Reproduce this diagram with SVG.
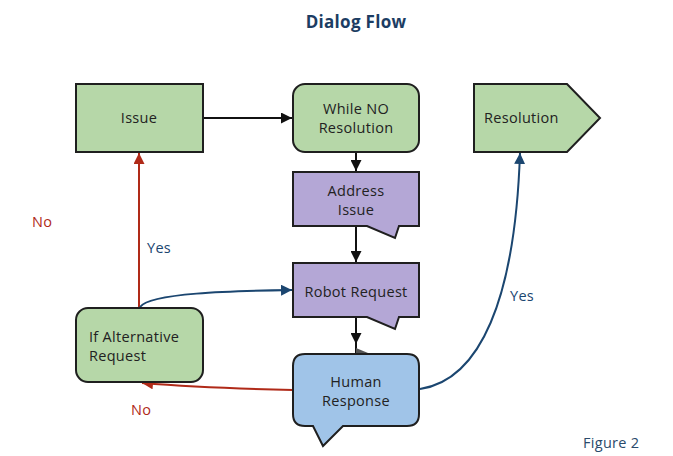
<svg xmlns="http://www.w3.org/2000/svg" width="673" height="456" viewBox="0 0 673 456">
<style>
text{font-family:"Open Sans","Noto Sans",sans-serif;letter-spacing:0.3px;}
.n{stroke:#1f1f1f;stroke-width:2;}
.g{fill:#b6d7a8;}
.p{fill:#b4a7d6;}
.b{fill:#a0c4e8;}
.t{font-size:14.5px;fill:#222;text-anchor:middle;}
.tl{font-size:14.5px;fill:#222;}
.c{fill:none;stroke-width:2;}
.k{stroke:#111;}
.r{stroke:#b02a18;}
.u{stroke:#1b4670;}
.lr{font-size:14.5px;fill:#b02a18;}
.lu{font-size:14.5px;fill:#1b4670;}
</style>
<defs>
<marker id="ak" viewBox="0 0 10 10" refX="10" refY="5" markerWidth="5.5" markerHeight="5.5" orient="auto"><path d="M0,0 L10,5 L0,10 Z" fill="#111"/></marker>
<marker id="ar" viewBox="0 0 10 10" refX="10" refY="5" markerWidth="5.5" markerHeight="5.5" orient="auto"><path d="M0,0 L10,5 L0,10 Z" fill="#b02a18"/></marker>
<marker id="au" viewBox="0 0 10 10" refX="10" refY="5" markerWidth="5.5" markerHeight="5.5" orient="auto"><path d="M0,0 L10,5 L0,10 Z" fill="#1b4670"/></marker>
</defs>
<rect width="673" height="456" fill="#fff"/>
<text x="356" y="28" text-anchor="middle" style="font-size:17px;font-weight:bold;fill:#1c3d63">Dialog Flow</text>

<g id="connectors">
<line class="c k" x1="203" y1="118" x2="292" y2="118" marker-end="url(#ak)"/>
<line class="c k" x1="356" y1="152" x2="356" y2="171" marker-end="url(#ak)"/>
<line class="c k" x1="356" y1="226" x2="356" y2="262" marker-end="url(#ak)"/>
<line class="c k" x1="356" y1="317" x2="356" y2="344" marker-end="url(#ak)"/>
<line class="c k" x1="356" y1="344" x2="356" y2="354"/>
<path d="M356,348 L368,353 L356,358 Z" fill="#555"/>
<line class="c r" x1="139" y1="308" x2="139" y2="153" marker-end="url(#ar)"/>
<path class="c u" d="M140,307 C150,293 230,291 292,290" marker-end="url(#au)"/>
<path class="c r" d="M293,390 C250,389 180,386 142,383" marker-end="url(#ar)"/>
<path class="c u" d="M420,389 C480,380 515,300 520,153" marker-end="url(#au)"/>
</g>

<g id="issue">
<rect class="n g" x="76" y="84" width="127" height="68"/>
<text class="t" x="139" y="123">Issue</text>
</g>
<g id="while">
<rect class="n g" x="293" y="84" width="126" height="68" rx="12"/>
<text class="t" x="356" y="114">While NO</text>
<text class="t" x="356" y="133">Resolution</text>
</g>
<g id="resolution">
<path class="n g" d="M474,84 H567 L600,118 L567,152 H474 Z"/>
<text class="tl" x="484" y="123">Resolution</text>
</g>
<g id="address">
<path class="n p" d="M293,172 H419 V226 H399 L395,238 L367,226 H293 Z"/>
<text class="t" x="356" y="196">Address</text>
<text class="t" x="356" y="215">Issue</text>
</g>
<g id="robot">
<path class="n p" d="M293,263 H419 V317 H399 L395,329 L367,317 H293 Z"/>
<text class="t" x="356" y="297">Robot Request</text>
</g>
<g id="human">
<path class="n b" d="M305,354 H407 Q419,354 419,366 V414 Q419,426 407,426 H343 L323,446 L313,426 H305 Q293,426 293,414 V366 Q293,354 305,354 Z"/>
<text class="t" x="356" y="387">Human</text>
<text class="t" x="356" y="406">Response</text>
</g>
<g id="ifalt">
<rect class="n g" x="76" y="308" width="127" height="74" rx="12"/>
<text class="tl" x="89" y="342">If Alternative</text>
<text class="tl" x="89" y="361">Request</text>
</g>

<text class="lr" x="32" y="227">No</text>
<text class="lu" x="147" y="253">Yes</text>
<text class="lu" x="510" y="301">Yes</text>
<text class="lr" x="131" y="415">No</text>
<text x="583" y="448" style="font-size:14.5px;fill:#2a4a6b">Figure 2</text>
</svg>
